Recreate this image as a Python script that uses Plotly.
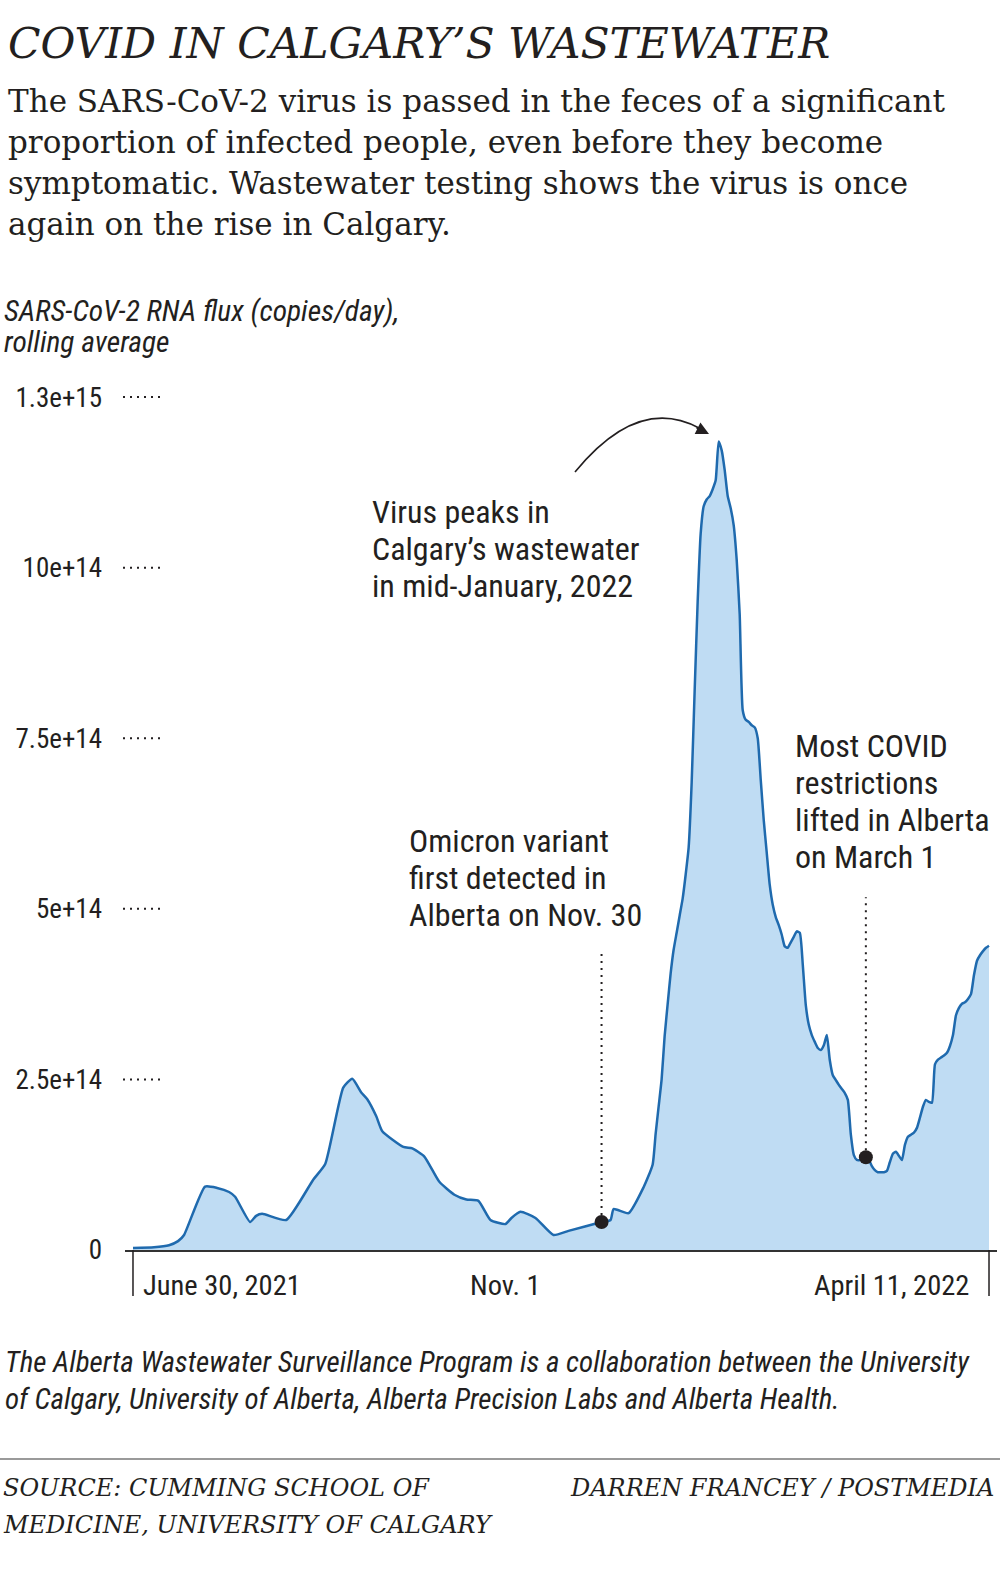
import pandas as pd
import plotly.graph_objects as go

# ---------------- data ----------------
dates = [
    "2021-06-30", "2021-07-07", "2021-07-12", "2021-07-15", "2021-07-17", "2021-07-24",
    "2021-07-28", "2021-08-01", "2021-08-03", "2021-08-08", "2021-08-10", "2021-08-12",
    "2021-08-20", "2021-08-29", "2021-09-02", "2021-09-08", "2021-09-11", "2021-09-14",
    "2021-09-16", "2021-09-19", "2021-09-21", "2021-09-28", "2021-10-01", "2021-10-05",
    "2021-10-10", "2021-10-15", "2021-10-19", "2021-10-23", "2021-10-27", "2021-11-01",
    "2021-11-03", "2021-11-06", "2021-11-11", "2021-11-17", "2021-11-22", "2021-12-03",
    "2021-12-06", "2021-12-07", "2021-12-12", "2021-12-17", "2021-12-20", "2021-12-21",
    "2021-12-22", "2021-12-23", "2021-12-24", "2021-12-25", "2021-12-26", "2021-12-27",
    "2021-12-28", "2021-12-29", "2021-12-30", "2021-12-31", "2022-01-01", "2022-01-02",
    "2022-01-03", "2022-01-04", "2022-01-05", "2022-01-06", "2022-01-07", "2022-01-08",
    "2022-01-09", "2022-01-10", "2022-01-11", "2022-01-12", "2022-01-13", "2022-01-14",
    "2022-01-15", "2022-01-16", "2022-01-17", "2022-01-18", "2022-01-19", "2022-01-20",
    "2022-01-21", "2022-01-22", "2022-01-23", "2022-01-24", "2022-01-25", "2022-01-26",
    "2022-01-27", "2022-01-28", "2022-01-29", "2022-01-30", "2022-01-31", "2022-02-01",
    "2022-02-02", "2022-02-03", "2022-02-04", "2022-02-05", "2022-02-06", "2022-02-07",
    "2022-02-08", "2022-02-09", "2022-02-10", "2022-02-11", "2022-02-12", "2022-02-13",
    "2022-02-14", "2022-02-15", "2022-02-16", "2022-02-17", "2022-02-18", "2022-02-19",
    "2022-02-20", "2022-02-21", "2022-02-22", "2022-02-23", "2022-02-24", "2022-02-25",
    "2022-02-26", "2022-02-27", "2022-02-28", "2022-03-01", "2022-03-02", "2022-03-03",
    "2022-03-04", "2022-03-05", "2022-03-06", "2022-03-07", "2022-03-08", "2022-03-09",
    "2022-03-10", "2022-03-11", "2022-03-12", "2022-03-13", "2022-03-14", "2022-03-15",
    "2022-03-16", "2022-03-17", "2022-03-18", "2022-03-19", "2022-03-20", "2022-03-21",
    "2022-03-22", "2022-03-23", "2022-03-24", "2022-03-25", "2022-03-26", "2022-03-27",
    "2022-03-28", "2022-03-29", "2022-03-30", "2022-03-31", "2022-04-01", "2022-04-02",
    "2022-04-03", "2022-04-04", "2022-04-05", "2022-04-06", "2022-04-07", "2022-04-08",
    "2022-04-09", "2022-04-10", "2022-04-11",
]
# RNA flux, in units of 1e14 copies/day
flux_e14 = [
    0.03, 0.04, 0.07, 0.13, 0.22, 0.93,
    0.91, 0.85, 0.78, 0.41, 0.50, 0.53,
    0.44, 1.03, 1.26, 2.38, 2.51, 2.31,
    2.21, 1.96, 1.74, 1.51, 1.49, 1.37,
    1.00, 0.81, 0.74, 0.72, 0.44, 0.38,
    0.47, 0.56, 0.47, 0.22, 0.28, 0.41,
    0.44, 0.60, 0.54, 0.92, 1.25, 1.70,
    2.10, 2.50, 3.13, 3.60, 4.05, 4.40,
    4.65, 4.90, 5.15, 5.50, 5.90, 6.85,
    8.20, 9.50, 10.50, 10.90, 11.00, 11.05,
    11.15, 11.28, 11.85, 11.72, 11.43, 11.05,
    10.87, 10.62, 10.11, 9.31, 7.91, 7.77,
    7.74, 7.69, 7.66, 7.50, 6.89, 6.30,
    5.82, 5.35, 5.06, 4.88, 4.76, 4.62,
    4.45, 4.43, 4.51, 4.59, 4.67, 4.65,
    4.18, 3.59, 3.30, 3.15, 3.05, 2.96,
    2.93, 3.00, 3.15, 2.78, 2.56, 2.49,
    2.42, 2.36, 2.30, 2.20, 1.69, 1.39,
    1.32, 1.32, 1.35, 1.36, 1.32, 1.23,
    1.17, 1.14, 1.14, 1.14, 1.16, 1.29,
    1.41, 1.44, 1.38, 1.32, 1.54, 1.66,
    1.69, 1.72, 1.79, 1.94, 2.10, 2.20,
    2.17, 2.16, 2.72, 2.79, 2.82, 2.85,
    2.89, 2.99, 3.15, 3.44, 3.55, 3.61,
    3.63, 3.68, 3.75, 4.03, 4.24, 4.32,
    4.38, 4.43, 4.46,
]
flux = [v * 1e14 for v in flux_e14]

y_tick_vals = [0, 2.5e14, 5e14, 7.5e14, 10e14, 12.5e14]
y_tick_text = ["0", "2.5e+14", "5e+14", "7.5e+14", "10e+14", "1.3e+15"]

x_label_dates = ["2021-06-30", "2021-11-01", "2022-04-11"]
x_label_text = ["June 30, 2021", "Nov. 1", "April 11, 2022"]

event_dates = ["2021-12-03", "2022-03-01"]
event_line_tops = [4.37e14, 5.17e14]

# ---------------- styling / layout ----------------
W, H = 1000, 1570
PL, PR, PT, PB = 125, 997, 363, 1250
SANS = "'Liberation Sans Narrow', 'Roboto Condensed', 'DejaVu Sans Condensed', Roboto, sans-serif"
SERIF = "'DejaVu Serif', serif"
TXT = "#231f20"
FILL = "#bfdcf3"
LINE = "#1f6aae"


def pxx(px):
    return (px - PL) / (PR - PL)


def pxy(py):
    return (PB - py) / (PB - PT)


series = pd.Series(flux, index=pd.to_datetime(dates))
start = pd.Timestamp(dates[0])
end = pd.Timestamp(dates[-1])
pad = pd.Timedelta(days=2.66)

fig = go.Figure()
fig.add_trace(go.Scatter(
    x=pd.to_datetime(dates), y=flux, mode="lines",
    line=dict(color=LINE, width=2.5, shape="spline", smoothing=0.5),
    fill="tozeroy", fillcolor=FILL, hoverinfo="skip", showlegend=False,
))

ev_vals = [series.loc[pd.Timestamp(d)] for d in event_dates]

shapes = []
for d, v, top in zip(event_dates, ev_vals, event_line_tops):
    shapes.append(dict(type="line", xref="x", yref="y", x0=d, x1=d, y0=v, y1=top,
                       line=dict(color=TXT, width=2, dash="2px,5px")))
for v in y_tick_vals[1:]:
    shapes.append(dict(type="line", xref="paper", yref="y", x0=pxx(123), x1=pxx(161), y0=v, y1=v,
                       line=dict(color=TXT, width=2, dash="2px,5px")))
for d in [dates[0], dates[-1]]:
    shapes.append(dict(type="line", xref="x", yref="paper", x0=d, x1=d, y0=0, y1=pxy(1296),
                       line=dict(color=TXT, width=1.5)))
shapes.append(dict(type="line", xref="paper", yref="paper", x0=pxx(0), x1=pxx(1000),
                   y0=pxy(1459), y1=pxy(1459), line=dict(color="#9a9a9a", width=2)))
shapes.append(dict(type="path", xref="paper", yref="paper",
                   path="M %f,%f Q %f,%f %f,%f" % (pxx(575), pxy(472), pxx(638), pxy(395),
                                                  pxx(699), pxy(428)),
                   line=dict(color=TXT, width=1.6)))

fig.add_trace(go.Scatter(
    x=pd.to_datetime(event_dates), y=ev_vals, mode="markers",
    marker=dict(color=TXT, size=14), hoverinfo="skip", showlegend=False,
))

ann = []


def text(px, py, s, size, family, anchor="left", italic=False, color=TXT):
    ann.append(dict(xref="paper", yref="paper", x=pxx(px), y=pxy(py), text=s,
                    showarrow=False, xanchor=anchor, yanchor="middle",
                    font=dict(size=size, family=family, color=color,
                              style="italic" if italic else "normal")))


text(6, 43, "COVID IN CALGARY’S WASTEWATER", 42.5, SERIF, italic=True)
for py, s in zip([101, 142, 183, 224], [
    "The SARS-CoV-2 virus is passed in the feces of a significant",
    "proportion of infected people, even before they become",
    "symptomatic. Wastewater testing shows the virus is once",
    "again on the rise in Calgary.",
]):
    text(6, py, s, 31, SERIF)

text(2, 311, "SARS-CoV-2 RNA flux (copies/day),", 29.5, SANS, italic=True)
text(2, 342, "rolling average", 29.5, SANS, italic=True)

for py, s in zip([512, 549, 586], ["Virus peaks in", "Calgary’s wastewater", "in mid-January, 2022"]):
    text(370, py, s, 32, SANS)
for py, s in zip([841, 878, 915], ["Omicron variant", "first detected in", "Alberta on Nov. 30"]):
    text(407, py, s, 32, SANS)
for py, s in zip([746, 783, 820, 857], ["Most COVID", "restrictions", "lifted in Alberta", "on March 1"]):
    text(793, py, s, 32, SANS)

ann.append(dict(xref="paper", yref="paper", x=pxx(709), y=pxy(434), ax=-14, ay=-7,
                axref="pixel", ayref="pixel", text="", showarrow=True,
                arrowhead=2, arrowsize=1.6, arrowwidth=1.6, arrowcolor=TXT, standoff=0))

for d, s, anc, shift in zip(x_label_dates, x_label_text, ["left", "center", "right"], [8, 0, -18]):
    ann.append(dict(xref="x", yref="paper", x=d, y=pxy(1285), text=s, showarrow=False,
                    xanchor=anc, yanchor="middle", xshift=shift,
                    font=dict(size=28.5, family=SANS, color=TXT)))

text(3, 1362, "The Alberta Wastewater Surveillance Program is a collaboration between the University",
     29, SANS, italic=True)
text(3, 1399, "of Calgary, University of Alberta, Alberta Precision Labs and Alberta Health.",
     29, SANS, italic=True)

text(1, 1488, "SOURCE: CUMMING SCHOOL OF", 24, SERIF, italic=True)
text(1, 1525, "MEDICINE, UNIVERSITY OF CALGARY", 24, SERIF, italic=True)
text(996, 1488, "DARREN FRANCEY / POSTMEDIA", 24, SERIF, anchor="right", italic=True)

fig.update_layout(
    width=W, height=H,
    margin=dict(l=PL, r=W - PR, t=PT, b=H - PB, pad=0),
    paper_bgcolor="white", plot_bgcolor="white",
    shapes=shapes, annotations=ann, showlegend=False,
    xaxis=dict(range=[start - pad, end + pad], showgrid=False, zeroline=False,
               showline=True, linecolor="#333333", linewidth=1.5,
               showticklabels=False, ticks=""),
    yaxis=dict(range=[0, 13e14], showgrid=False, zeroline=False, showline=False,
               tickvals=y_tick_vals, ticktext=y_tick_text, ticks="",
               ticklabelstandoff=22,
               tickfont=dict(size=27, family=SANS, color=TXT)),
)

fig.write_html("out.html", config={"displayModeBar": False},
               post_script="document.body.style.margin='0';document.body.style.overflow='hidden';")
